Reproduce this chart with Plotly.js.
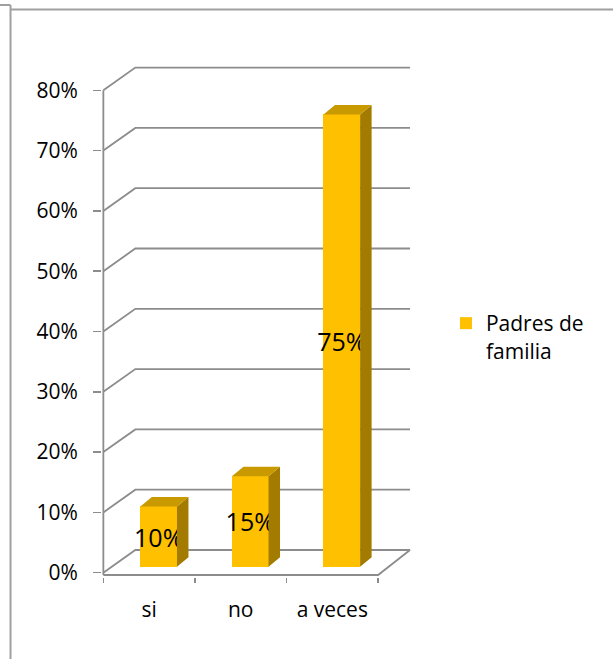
<!DOCTYPE html>
<html>
<head>
<meta charset="utf-8">
<script src="https://cdn.plot.ly/plotly-3.0.1.min.js"></script>
<style>
  html, body { margin: 0; padding: 0; background: #ffffff; }
  #chart { width: 613px; height: 659px; }
</style>
</head>
<body>
<div id="chart"></div>
<script>
// ---- data ----
const categories = ['si', 'no', 'a veces'];
const values = [0.10, 0.15, 0.75];
const valueLabels = ['10%', '15%', '75%'];
const yTickVals = [0, 0.1, 0.2, 0.3, 0.4, 0.5, 0.6, 0.7, 0.8];
const yTickText = ['0%', '10%', '20%', '30%', '40%', '50%', '60%', '70%', '80%'];
const seriesName = 'Padres de<br>familia';

// ---- geometry (pixel-based calibration of the pseudo-3D look) ----
const W = 613, H = 659;
const L = 101.6, RIGHT_PX = 412, T = 60, BOTTOM_PX = 577;
const PX_PER_CAT = 91.69, CAT0_PX = 148.8;     // category 0 centre on the front plane
const PX_PER_UNIT = 603, ZERO_PX = 572.7;       // y: value 1.0 -> 603 px
const plotW = RIGHT_PX - L, plotH = BOTTOM_PX - T;
const xRange = [(L - CAT0_PX) / PX_PER_CAT, (RIGHT_PX - CAT0_PX) / PX_PER_CAT];
const yRange = [(ZERO_PX - BOTTOM_PX) / PX_PER_UNIT, (ZERO_PX - T) / PX_PER_UNIT];

const WALL_DX = 32 / PX_PER_CAT, WALL_DY = 22.7 / PX_PER_UNIT;   // depth of the back wall
const BAR_DX = 11.5 / PX_PER_CAT, BAR_DY = 9.5 / PX_PER_UNIT;    // depth of each bar
const BAR_W = 0.4, BAR_OFF = -0.096, BAR_BASE = 6 / PX_PER_UNIT;
const FLOOR_Y = (ZERO_PX - 575) / PX_PER_UNIT;
const nCat = categories.length;
const leftX = -0.5, rightX = nCat - 0.5;

const FRONT = '#FFC000', TOP = '#C99A00', SIDE = '#A27B00';
const GRID = '#8c8c8c';
const FONT = 'Open Sans, Liberation Sans, sans-serif';
const FS = 21;

// gridlines on the back wall, with diagonal to the front axis
const gx = [], gy = [];
yTickVals.forEach(v => {
  gx.push(leftX, leftX + WALL_DX, rightX + WALL_DX, null);
  gy.push(v, v + WALL_DY, v + WALL_DY, null);
});
const gridTrace = {
  type: 'scatter', mode: 'lines', x: gx, y: gy, xaxis: 'x', yaxis: 'y',
  line: { color: GRID, width: 1.8 }, hoverinfo: 'skip', showlegend: false
};
// front axes lines (vertical axis and floor front edge)
const axisTrace = {
  type: 'scatter', mode: 'lines',
  x: [leftX, leftX, null, leftX, rightX, rightX + WALL_DX],
  y: [yTickVals[yTickVals.length - 1], FLOOR_Y, null, FLOOR_Y, FLOOR_Y, WALL_DY],
  xaxis: 'x', yaxis: 'y',
  line: { color: GRID, width: 1.8 }, hoverinfo: 'skip', showlegend: false
};

// bar front faces
const barTrace = {
  type: 'bar', x: categories, y: values, base: BAR_BASE,
  xaxis: 'x2', yaxis: 'y',
  width: BAR_W, offset: BAR_OFF,
  name: seriesName,
  marker: { color: FRONT, line: { width: 0 } },
  text: valueLabels, textposition: 'inside', insidetextanchor: 'middle',
  textangle: 0, constraintext: 'none',
  insidetextfont: { family: FONT, size: 25, color: '#000000' },
  hoverinfo: 'skip'
};

// side and top faces
const sx = [], sy = [], tx = [], ty = [];
values.forEach((v, i) => {
  const x0 = i + BAR_OFF, x1 = x0 + BAR_W;
  const y0 = BAR_BASE, y1 = BAR_BASE + v;
  sx.push(x1, x1, x1 + BAR_DX, x1 + BAR_DX, x1, null);
  sy.push(y0, y1, y1 + BAR_DY, y0 + BAR_DY, y0, null);
  tx.push(x0, x1, x1 + BAR_DX, x0 + BAR_DX, x0, null);
  ty.push(y1, y1, y1 + BAR_DY, y1 + BAR_DY, y1, null);
});
const sideTrace = {
  type: 'scatter', mode: 'lines', x: sx, y: sy, xaxis: 'x3', yaxis: 'y',
  fill: 'toself', fillcolor: SIDE, line: { width: 0, color: SIDE },
  hoverinfo: 'skip', showlegend: false
};
const topTrace = {
  type: 'scatter', mode: 'lines', x: tx, y: ty, xaxis: 'x3', yaxis: 'y',
  fill: 'toself', fillcolor: TOP, line: { width: 0, color: TOP },
  hoverinfo: 'skip', showlegend: false
};

const pxX = p => (p - L) / plotW;
const pxY = p => (BOTTOM_PX - p) / plotH;
const frame = { type: 'line', xref: 'paper', yref: 'paper', line: { color: '#a0a0a0', width: 2 } };
const shapes = [
  Object.assign({}, frame, { x0: pxX(10), x1: pxX(10), y0: pxY(5), y1: pxY(H + 2) }),
  Object.assign({}, frame, { x0: pxX(10), x1: pxX(W + 2), y0: pxY(9.5), y1: pxY(9.5) }),
  Object.assign({}, frame, { x0: pxX(-2), x1: pxX(10), y0: pxY(5), y1: pxY(5) })
];

const layout = {
  width: W, height: H,
  margin: { l: L, r: W - RIGHT_PX, t: T, b: H - BOTTOM_PX, autoexpand: false },
  paper_bgcolor: '#ffffff', plot_bgcolor: 'rgba(0,0,0,0)',
  font: { family: FONT, size: FS, color: '#000000' },
  xaxis: { type: 'linear', range: xRange, visible: false, fixedrange: true },
  xaxis2: {
    type: 'category', overlaying: 'x', anchor: 'y', side: 'bottom',
    categoryorder: 'array', categoryarray: categories,
    range: xRange, showgrid: false, zeroline: false, showline: false,
    ticks: 'outside', tickson: 'boundaries', ticklen: 5, tickwidth: 1.5, tickcolor: GRID,
    ticklabelstandoff: 18,
    tickfont: { family: FONT, size: FS, color: '#000000' }
  },
  xaxis3: { type: 'linear', overlaying: 'x', anchor: 'y', range: xRange, visible: false },
  yaxis: {
    range: yRange, tickvals: yTickVals, ticktext: yTickText,
    showgrid: false, zeroline: false, showline: false,
    ticks: 'outside', ticklen: 8, tickwidth: 1.5, tickcolor: GRID,
    ticklabelstandoff: 11,
    tickfont: { family: FONT, size: FS, color: '#000000' }
  },
  legend: {
    x: pxX(446), y: pxY(303), xanchor: 'left', yanchor: 'top', valign: 'top',
    bgcolor: 'rgba(0,0,0,0)', font: { family: FONT, size: FS, color: '#000000' }
  },
  showlegend: true,
  shapes: shapes,
  bargap: 0
};

Plotly.newPlot('chart', [gridTrace, axisTrace, barTrace, sideTrace, topTrace], layout,
  { staticPlot: true, displayModeBar: false });
</script>
</body>
</html>
